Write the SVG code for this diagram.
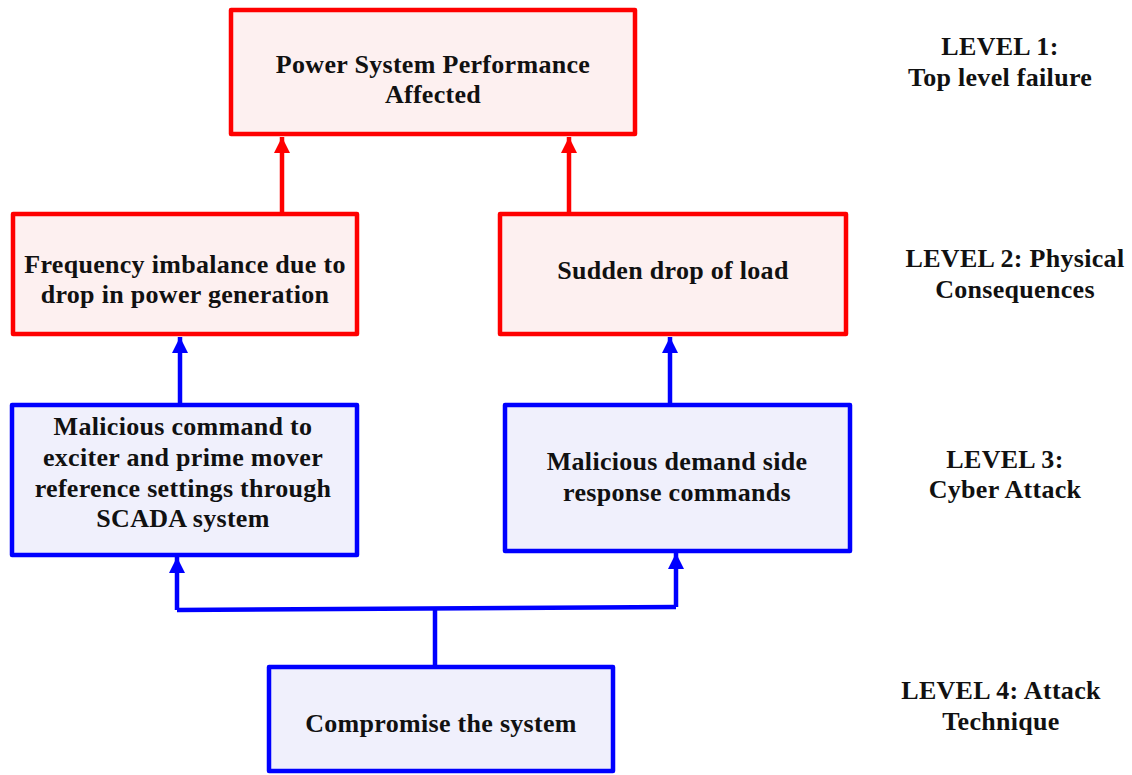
<svg xmlns="http://www.w3.org/2000/svg" width="1132" height="775" viewBox="0 0 1132 775">
<style>
.red{fill:#fdf0f0;stroke:#ff0000;stroke-width:4.5;stroke-linejoin:round}
.blue{fill:#f0f0fc;stroke:#0000ff;stroke-width:4.5;stroke-linejoin:round}
text{font-family:"Liberation Serif","Times New Roman",serif;font-weight:bold;font-size:26px;fill:#111;text-anchor:middle;letter-spacing:0.3px}
.cr{stroke:#ff0000;stroke-width:4.5;fill:none}
.cb{stroke:#0000ff;stroke-width:4.5;fill:none;stroke-linejoin:round}
</style>
<defs>
<marker id="ar" markerUnits="userSpaceOnUse" markerWidth="18" markerHeight="16" viewBox="0 0 18 16" refX="16" refY="8" orient="auto"><path d="M0,0 L16,8 L0,16 Z" fill="#ff0000"/></marker>
<marker id="ab" markerUnits="userSpaceOnUse" markerWidth="18" markerHeight="16" viewBox="0 0 18 16" refX="16" refY="8" orient="auto"><path d="M0,0 L16,8 L0,16 Z" fill="#0000ff"/></marker>
</defs>
<rect width="1132" height="775" fill="#fff"/>
<g id="connectors">
<line class="cr" x1="282" y1="212" x2="282" y2="137" marker-end="url(#ar)"/>
<line class="cr" x1="569" y1="212" x2="569" y2="137" marker-end="url(#ar)"/>
<line class="cb" x1="180" y1="403" x2="180" y2="337" marker-end="url(#ab)"/>
<line class="cb" x1="670" y1="403" x2="670" y2="337" marker-end="url(#ab)"/>
<path class="cb" d="M435,665 L435,609"/>
<path class="cb" d="M177,610 L676,607"/>
<line class="cb" x1="177" y1="610" x2="177" y2="557" marker-end="url(#ab)"/>
<line class="cb" x1="676" y1="607" x2="676" y2="553" marker-end="url(#ab)"/>
</g>
<g id="n1"><rect class="red" x="231" y="10" width="404" height="124"/>
<text x="433" y="73">Power System Performance</text><text x="433" y="103">Affected</text></g>
<g id="n2"><rect class="red" x="13" y="214" width="344" height="120"/>
<text x="185" y="273">Frequency imbalance due to</text><text x="185" y="303">drop in power generation</text></g>
<g id="n3"><rect class="red" x="500" y="214" width="346" height="120"/>
<text x="673" y="279">Sudden drop of load</text></g>
<g id="n4"><rect class="blue" x="12" y="405" width="345" height="150"/>
<text x="183" y="435">Malicious command to</text><text x="183" y="466">exciter and prime mover</text><text x="183" y="497">reference settings through</text><text x="183" y="527">SCADA system</text></g>
<g id="n5"><rect class="blue" x="505" y="405" width="345" height="146"/>
<text x="677" y="470">Malicious demand side</text><text x="677" y="501">response commands</text></g>
<g id="n6"><rect class="blue" x="269" y="667" width="344" height="104"/>
<text x="441" y="732">Compromise the system</text></g>
<g id="labels">
<text x="1000" y="55">LEVEL 1:</text><text x="1000" y="86">Top level failure</text>
<text x="1015" y="267">LEVEL 2: Physical</text><text x="1015" y="298">Consequences</text>
<text x="1005" y="468">LEVEL 3:</text><text x="1005" y="498">Cyber Attack</text>
<text x="1001" y="699">LEVEL 4: Attack</text><text x="1001" y="730">Technique</text>
</g>
</svg>
